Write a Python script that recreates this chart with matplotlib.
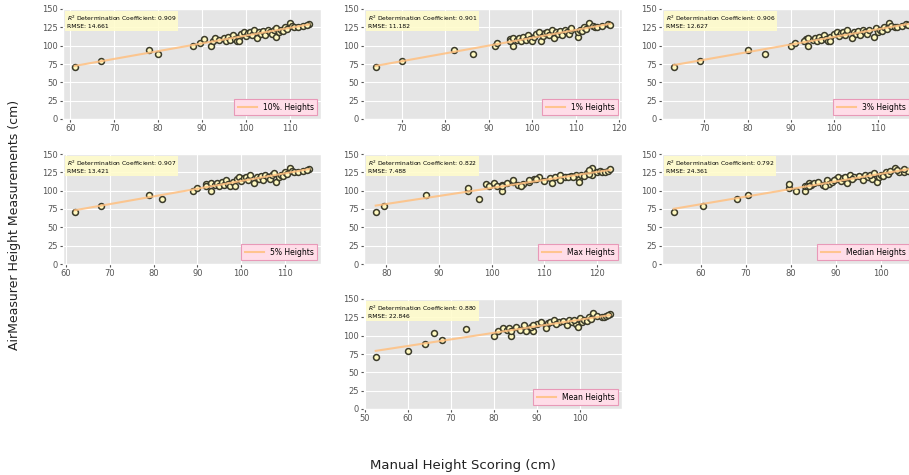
import numpy as np
import matplotlib
matplotlib.use("Agg")
import matplotlib.pyplot as plt

plt.style.use("ggplot")

# Shared AirMeasurer heights (y)
y_vals = [71, 79, 94, 88, 99, 103, 109, 100,
          107, 111, 108, 110, 106, 112, 108, 114, 109, 106,
          112, 116, 118, 107, 113, 117, 119, 115, 121, 111,
          118, 116, 120, 114, 122, 118, 116, 121, 112, 124,
          119, 122, 120, 125, 123, 131, 127, 126, 125, 127,
          129, 128]

x_10 = [61, 67, 78, 80, 88, 89.5, 90.5, 92,
        92.5, 93, 94, 95, 95.5, 96, 96.5, 97, 97.5, 98,
        98.5, 99, 99.5, 98.5, 100, 100.5, 101, 101.5, 102, 102.5,
        103, 103.5, 104, 104.5, 105, 105.5, 106, 106.5, 107, 107,
        107.5, 108, 108.5, 109, 109.5, 110, 110.5, 111, 112, 113,
        114.5, 114]
x_1 = [64, 70, 82, 86.5, 91.5, 92, 95, 95.5,
       95, 95.5, 96.5, 97, 97.5, 98, 98.5, 99, 99.5, 100,
       100.5, 101, 101.5, 102, 102.5, 103, 103.5, 104, 104.5, 105,
       105.5, 106, 106.5, 107, 107.5, 108, 108.5, 109, 110.5, 109,
       110.5, 111, 111.5, 112, 112.5, 113, 114, 114.5, 115, 116,
       117.5, 118]
x_3 = [63, 69, 80, 84, 90, 91, 93.5, 94,
       93, 94, 95, 95.5, 96, 96.5, 97, 97.5, 98, 98.5,
       99, 100, 100.5, 99, 101, 101.5, 102, 102.5, 103, 104,
       104.5, 105, 105.5, 106, 106.5, 107, 107.5, 108, 109, 109.5,
       110, 110.5, 111, 111.5, 112, 112.5, 113, 114, 114.5, 115.5,
       116.5, 117]
x_5 = [62, 68, 79, 82, 89, 90, 92, 93,
       92, 93, 94, 94.5, 95, 95.5, 96, 96.5, 97, 97.5,
       98, 99, 99.5, 98.5, 100, 100.5, 101, 101.5, 102, 103,
       103.5, 104, 104.5, 105, 105.5, 106, 106.5, 107, 108, 107.5,
       108.5, 109, 109.5, 110, 110.5, 111, 111.5, 112, 113, 114,
       115.5, 115]
x_max = [78, 79.5, 87.5, 97.5, 95.5, 95.5, 99, 102,
         99.5, 100.5, 102, 103, 101, 104, 105, 104, 106, 102,
         107, 108, 109, 105.5, 110, 111, 112, 107, 113, 111.5,
         114, 108.5, 115, 113, 116, 114.5, 116.5, 117, 116.5, 118,
         115.5, 119, 117.5, 120, 118.5, 119, 120.5, 121, 121.5, 122,
         122.5, 118.5]
x_median = [54, 60.5, 70.5, 68, 81, 79.5, 79.5, 83,
            83, 84, 84.5, 85, 83.5, 86, 87, 88, 88.5, 84,
            89, 90, 90.5, 87.5, 91, 91.5, 92, 89.5, 93, 92.5,
            94, 93.5, 95, 96, 96.5, 97, 98, 97.5, 99, 98.5,
            99.5, 100, 100.5, 101, 101.5, 103, 102, 104, 105, 106,
            105, 103.5]
x_mean = [52.5, 60, 68, 64, 80, 66, 73.5, 84,
          81, 82, 83, 83.5, 84, 85, 86, 87, 88, 89,
          88.5, 90, 91, 87.5, 92, 92.5, 93, 89, 94, 92,
          95, 94.5, 96, 97, 97.5, 98, 99, 98.5, 99.5, 100,
          100.5, 101, 101.5, 102, 102.5, 103, 104, 105, 105.5, 106,
          107, 106.5]

labels = ["10%. Heights", "1% Heights", "3% Heights", "5% Heights",
          "Max Heights", "Median Heights", "Mean Heights"]
r2_vals = ["0.909", "0.901", "0.906", "0.907", "0.822", "0.792", "0.880"]
rmse_vals = ["14.661", "11.182", "12.627", "13.421", "7.488", "24.361", "22.846"]
x_sets = [x_10, x_1, x_3, x_5, x_max, x_median, x_mean]

W, H = 909, 475
fig = plt.figure(figsize=(W / 100, H / 100), dpi=100)

col_left = [63, 364, 662]
row_top = [9, 154, 299]
ax_w, ax_h = 258, 110
cells = [(0, 0), (0, 1), (0, 2), (1, 0), (1, 1), (1, 2), (2, 1)]

for i, (r, c) in enumerate(cells):
    left = col_left[c] / W
    bottom = 1 - (row_top[r] + ax_h) / H
    ax = fig.add_axes([left, bottom, ax_w / W, ax_h / H])
    x = np.array(x_sets[i], dtype=float)
    y = np.array(y_vals, dtype=float)
    ax.scatter(x, y, s=18, facecolor="#fff9c0", edgecolor="#3a3a2a",
               linewidth=1.1, zorder=3)
    k, b = np.polyfit(x, y, 1)
    xs = np.array([x.min(), x.max()])
    ax.plot(xs, k * xs + b, color="#ffc080", lw=1.5, alpha=0.85,
            label=labels[i], zorder=4)
    ax.set_ylim(0, 150)
    ax.set_yticks([0, 25, 50, 75, 100, 125, 150])
    ax.tick_params(labelsize=6, colors="#555555", length=2, pad=1.5)
    ax.text(0.015, 0.955,
            "$R^2$ Determination Coefficient: " + r2_vals[i] + "\nRMSE: " + rmse_vals[i],
            transform=ax.transAxes, fontsize=4.3, va="top", ha="left",
            linespacing=1.3,
            bbox=dict(boxstyle="square,pad=0.25", facecolor="#fffccc",
                      edgecolor="none", alpha=0.9), zorder=5)
    anchor_x = 1.0 if c < 2 else 1.0 - 7 / ax_w
    leg = ax.legend(loc="lower right", bbox_to_anchor=(anchor_x, 0.0),
                    fontsize=5.5, facecolor="#ffdde8",
                    edgecolor="#e899b8", framealpha=1, fancybox=False,
                    handlelength=2.5, borderpad=0.45)
    leg.get_frame().set_linewidth(0.8)

fig.text(463 / W, 1 - 465 / H, "Manual Height Scoring (cm)", ha="center",
         va="center", fontsize=9.5, color="#222222")
fig.text(15 / W, 1 - 225 / H, "AirMeasurer Height Measurements (cm)",
         ha="center", va="center", rotation=90, fontsize=9, color="#222222")

fig.savefig("out.png", dpi=100, facecolor="white")
